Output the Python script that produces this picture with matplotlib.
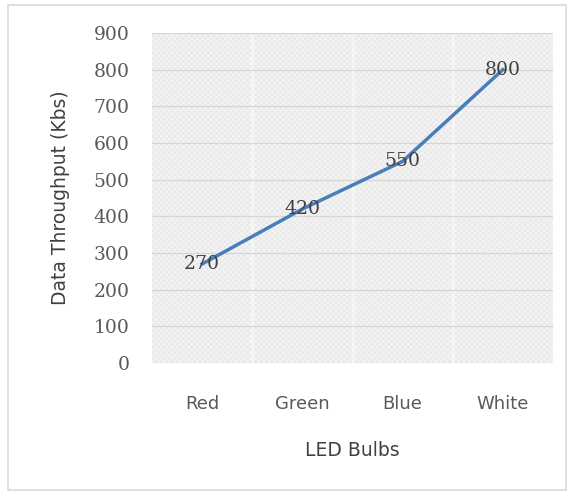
import matplotlib
matplotlib.use("Agg")
import matplotlib.pyplot as plt
from matplotlib.patches import Rectangle

categories = ["Red", "Green", "Blue", "White"]
throughput = [270, 420, 550, 800]
yticks = [0, 100, 200, 300, 400, 500, 600, 700, 800, 900]

plt.rcParams["hatch.linewidth"] = 0.4

fig = plt.figure(figsize=(5.71, 4.95), dpi=100)
fig.patch.set_facecolor("white")
fig.add_artist(Rectangle((8/571, 1-490/495), 558/571, 485/495, transform=fig.transFigure,
                         fill=False, edgecolor="#d9d9d9", linewidth=1.2))

ax = fig.add_axes([152/571, 1-363/495, 401/571, 330/495])
ax.set_facecolor("#f3f3f3")
bg = Rectangle((0, 0), 1, 1, transform=ax.transAxes, facecolor="none",
               edgecolor="#e4e4e4", hatch="xxxxxx", linewidth=0, zorder=0.5)
ax.add_patch(bg)

x = list(range(len(categories)))
ax.set_xlim(-0.5, len(categories) - 0.5)
ax.set_ylim(0, 900)
ax.set_yticks(yticks)
ax.set_xticks(x)
ax.set_xticklabels(categories, fontfamily="DejaVu Sans", fontsize=13, color="#595959")
ax.set_yticklabels([str(v) for v in yticks], fontfamily="DejaVu Serif", fontsize=13.5, color="#595959")
ax.tick_params(length=0)
ax.tick_params(axis="x", pad=23)
ax.tick_params(axis="y", pad=16)

for v in yticks[1:]:
    ax.axhline(v, color="#d6d6d6", linewidth=0.9, zorder=1)
ax.axhline(0, color="#cfcfcf", linewidth=1.0, zorder=1)
for b in [0.5, 1.5, 2.5]:
    ax.axvline(b, color="#fbfbfb", linewidth=2, alpha=0.6, zorder=0.8)

for s in ax.spines.values():
    s.set_visible(False)

ax.plot(x, throughput, color="#4a7ebb", linewidth=2.5, zorder=3)
for xi, v in zip(x, throughput):
    ax.text(xi, v, str(v), ha="center", va="center", fontfamily="DejaVu Serif",
            fontsize=13.5, color="#404040", zorder=4)

ax.set_ylabel("Data Throughput (Kbs)", fontfamily="DejaVu Sans", fontsize=13.5, color="#404040",
              labelpad=17)
ax.set_xlabel("LED Bulbs", fontfamily="DejaVu Sans", fontsize=13.5, color="#404040", labelpad=20)

fig.savefig("out.png", dpi=100)
